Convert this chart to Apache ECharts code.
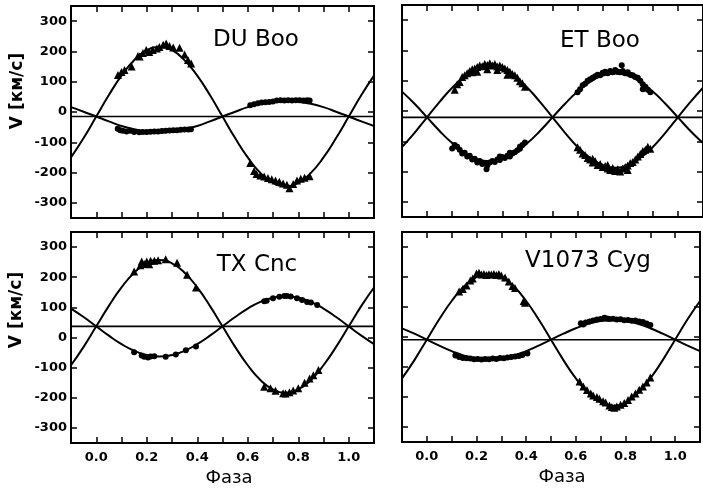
<!DOCTYPE html>
<html>
<head>
<meta charset="utf-8">
<script src="https://cdn.jsdelivr.net/npm/echarts@6/dist/echarts.min.js"></script>
<style>html,body{margin:0;padding:0;background:#fff}#c{width:703px;height:491px}</style>
</head>
<body>
<div id="c"></div>
<script>
// ---- data ----
const phases = [-0.1,-0.05,0,0.05,0.1,0.15,0.2,0.25,0.3,0.35,0.4,0.45,0.5,0.55,0.6,0.65,0.7,0.75,0.8,0.85,0.9,0.95,1.0,1.05,1.1];
const xTickLabels = ['0.0','0.2','0.4','0.6','0.8','1.0'];
const yTickLabels = ['-300','-200','-100','0','100','200','300'];
const panelNames = ['DU Boo','ET Boo','TX Cnc','V1073 Cyg'];

const duBooGamma = -15;
const duBooFit1 = [-150,-86,-15,56,120,171,204,215,204,171,120,56,-15,-86,-150,-201,-234,-245,-234,-201,-150,-86,-15,56,120];
const duBooFit2 = [16,1,-15,-31,-46,-57,-64,-67,-64,-57,-46,-31,-15,1,16,27,34,37,34,27,16,1,-15,-31,-46];
const duBooTri = [[0.086,122],[0.1,132],[0.112,139],[0.14,150],[0.165,185],[0.172,183],[0.185,195],[0.198,205],[0.21,198],[0.224,205],[0.24,210],[0.25,215],[0.265,222],[0.277,226],[0.29,218],[0.305,213],[0.33,212],[0.35,190],[0.363,172],[0.376,160],
  [0.61,-168],[0.625,-195],[0.635,-205],[0.65,-210],[0.665,-213],[0.68,-218],[0.695,-222],[0.71,-226],[0.725,-230],[0.74,-236],[0.755,-240],[0.765,-252],[0.78,-238],[0.795,-226],[0.81,-220],[0.825,-217],[0.845,-212]];
const duBooCirc = [[0.085,-55],[0.095,-60],[0.105,-62],[0.12,-64],[0.135,-62],[0.15,-66],[0.17,-67],[0.185,-66],[0.2,-66],[0.215,-65],[0.23,-64],[0.245,-64],[0.26,-63],[0.275,-62],[0.29,-61],[0.305,-60],[0.32,-60],[0.335,-59],[0.35,-58],[0.365,-58],[0.375,-57],
  [0.61,22],[0.625,26],[0.64,29],[0.655,31],[0.67,32],[0.685,33],[0.7,35],[0.715,38],[0.73,39],[0.745,38],[0.76,39],[0.775,38],[0.79,39],[0.805,39],[0.82,38],[0.835,39],[0.845,38]];

const etBooGamma = -21;
const etBooFit1 = [-119,-72,-21,30,77,113,137,145,137,113,77,30,-21,-72,-119,-155,-179,-187,-179,-155,-119,-72,-21,30,77];
const etBooFit2 = [64,24,-21,-66,-106,-138,-159,-166,-159,-138,-106,-66,-21,24,64,96,117,124,117,96,64,24,-21,-66,-106];
const etBooTri = [[0.11,70],[0.12,88],[0.13,96],[0.14,112],[0.15,118],[0.16,125],[0.17,132],[0.18,128],[0.19,140],[0.2,145],[0.21,150],[0.22,148],[0.23,155],[0.24,152],[0.25,158],[0.26,150],[0.27,155],[0.28,147],[0.29,150],[0.3,145],[0.31,140],[0.32,135],[0.33,130],[0.34,122],[0.35,118],[0.36,110],[0.37,98],[0.38,92],[0.39,80],[0.2,130],[0.24,138],[0.28,135],[0.32,120],[0.18,138],
  [0.6,-120],[0.61,-128],[0.62,-140],[0.63,-145],[0.64,-155],[0.65,-160],[0.66,-170],[0.67,-165],[0.68,-178],[0.69,-175],[0.7,-185],[0.71,-182],[0.72,-190],[0.73,-195],[0.74,-188],[0.75,-198],[0.76,-192],[0.77,-200],[0.78,-190],[0.79,-185],[0.8,-180],[0.81,-172],[0.82,-168],[0.83,-160],[0.84,-150],[0.85,-142],[0.86,-132],[0.87,-128],[0.88,-118],[0.89,-125],[0.66,-158],[0.72,-178],[0.8,-195]];
const etBooCirc = [[0.1,-124],[0.11,-112],[0.12,-118],[0.13,-128],[0.14,-140],[0.15,-138],[0.16,-150],[0.17,-148],[0.18,-160],[0.19,-158],[0.2,-170],[0.21,-165],[0.22,-175],[0.23,-172],[0.237,-192],[0.24,-180],[0.25,-170],[0.26,-165],[0.27,-168],[0.28,-160],[0.29,-162],[0.3,-152],[0.31,-155],[0.32,-148],[0.33,-150],[0.34,-140],[0.35,-136],[0.36,-130],[0.37,-125],[0.38,-112],[0.39,-104],[0.29,-150],[0.33,-138],[0.37,-118],
  [0.6,62],[0.61,72],[0.62,85],[0.63,90],[0.64,100],[0.65,105],[0.66,110],[0.67,115],[0.68,120],[0.69,118],[0.7,126],[0.71,130],[0.72,125],[0.73,132],[0.74,128],[0.75,135],[0.76,130],[0.776,151],[0.77,128],[0.78,132],[0.79,125],[0.8,128],[0.81,120],[0.82,118],[0.83,112],[0.84,110],[0.85,100],[0.86,88],[0.87,80],[0.88,70],[0.89,62],[0.86,72]];

const txCncGamma = 37;
const txCncFit1 = [-92,-31,37,105,166,215,246,257,246,215,166,105,37,-31,-92,-141,-172,-183,-172,-141,-92,-31,37,105,166];
const txCncFit2 = [96,68,37,6,-22,-44,-58,-63,-58,-44,-22,6,37,68,96,118,132,137,132,118,96,68,37,6,-22];
const txCncTri = [[0.15,219],[0.175,240],[0.18,252],[0.19,244],[0.2,252],[0.21,243],[0.215,255],[0.23,255],[0.245,256],[0.275,260],[0.32,248],[0.36,208],[0.395,166],
  [0.665,-163],[0.69,-168],[0.71,-177],[0.74,-185],[0.75,-186],[0.765,-182],[0.78,-176],[0.8,-168],[0.825,-150],[0.845,-136],[0.86,-125],[0.88,-108]];
const txCncCirc = [[0.15,-49],[0.18,-60],[0.19,-64],[0.205,-66],[0.215,-63],[0.23,-62],[0.275,-64],[0.315,-56],[0.355,-42],[0.395,-30],
  [0.665,120],[0.675,122],[0.7,130],[0.725,135],[0.745,138],[0.755,138],[0.77,136],[0.795,130],[0.815,124],[0.835,118],[0.85,116],[0.875,108]];

const v1073Gamma = -9;
const v1073Fit1 = [-138,-77,-9,59,120,169,200,211,200,169,120,59,-9,-77,-138,-187,-218,-229,-218,-187,-138,-77,-9,59,120];
const v1073Fit2 = [29,11,-9,-29,-47,-62,-71,-74,-71,-62,-47,-29,-9,11,29,44,53,56,53,44,29,11,-9,-29,-47];
const v1073Tri = [[0.13,152],[0.145,160],[0.16,172],[0.175,188],[0.185,195],[0.2,212],[0.21,214],[0.22,208],[0.23,210],[0.24,207],[0.25,209],[0.26,208],[0.27,210],[0.28,207],[0.29,210],[0.3,205],[0.315,198],[0.33,185],[0.345,170],[0.355,163],[0.39,120],[0.395,114],
  [0.615,-148],[0.63,-165],[0.645,-177],[0.66,-188],[0.67,-195],[0.685,-200],[0.695,-206],[0.71,-214],[0.72,-218],[0.735,-228],[0.745,-233],[0.755,-236],[0.765,-232],[0.78,-226],[0.795,-220],[0.81,-210],[0.825,-198],[0.84,-188],[0.855,-176],[0.87,-165],[0.885,-152],[0.9,-135]];
const v1073Circ = [[0.115,-62],[0.13,-67],[0.145,-70],[0.16,-71],[0.175,-72],[0.19,-74],[0.205,-73],[0.22,-75],[0.235,-73],[0.25,-74],[0.265,-72],[0.28,-73],[0.295,-70],[0.31,-71],[0.325,-68],[0.34,-67],[0.355,-65],[0.37,-63],[0.385,-60],[0.405,-55],
  [0.62,46],[0.63,42],[0.64,48],[0.655,52],[0.67,55],[0.685,58],[0.7,60],[0.715,64],[0.725,62],[0.735,60],[0.75,61],[0.765,58],[0.78,59],[0.795,56],[0.81,57],[0.825,54],[0.84,55],[0.855,52],[0.87,50],[0.885,45],[0.9,40]];

// ---- layout ----
const panels = [
  {name: panelNames[0], gamma: duBooGamma, fit1: duBooFit1, fit2: duBooFit2, tri: duBooTri, circ: duBooCirc, grid: {left: 71, top: 6, width: 303, height: 212}, xl: false, yl: true, title: [256, 40]},
  {name: panelNames[1], gamma: etBooGamma, fit1: etBooFit1, fit2: etBooFit2, tri: etBooTri, circ: etBooCirc, grid: {left: 402, top: 5, width: 305, height: 212}, xl: false, yl: false, title: [600, 41]},
  {name: panelNames[2], gamma: txCncGamma, fit1: txCncFit1, fit2: txCncFit2, tri: txCncTri, circ: txCncCirc, grid: {left: 71, top: 232, width: 303, height: 211}, xl: true, yl: true, title: [257, 265]},
  {name: panelNames[3], gamma: v1073Gamma, fit1: v1073Fit1, fit2: v1073Fit2, tri: v1073Tri, circ: v1073Circ, grid: {left: 402, top: 232, width: 305, height: 210}, xl: true, yl: false, title: [588, 261]}
];

const tickFont = {fontFamily: 'DejaVu Sans', fontWeight: 'bold', fontSize: 13, color: '#000'};
const tickStyle = {inside: true, length: 6, lineStyle: {color: '#000', width: 1.5}};

const grids = [], xAxes = [], yAxes = [], series = [];
panels.forEach((p, i) => {
  grids.push(Object.assign({show: true, borderColor: '#000', borderWidth: 2, backgroundColor: 'transparent'}, p.grid));
  ['bottom', 'top'].forEach(pos => {
    xAxes.push({type: 'value', gridIndex: i, position: pos, min: -0.1, max: 1.1, interval: 0.1,
      axisLine: {show: false, onZero: false}, splitLine: {show: false}, axisTick: tickStyle,
      axisLabel: Object.assign({show: pos === 'bottom' && p.xl, margin: 8,
        formatter: v => { const k = Math.round(v * 10); return (k >= 0 && k <= 10 && k % 2 === 0) ? xTickLabels[k / 2] : ''; }}, tickFont)});
  });
  ['left', 'right'].forEach(pos => {
    yAxes.push({type: 'value', gridIndex: i, position: pos, min: -350, max: 350, splitNumber: 7,
      axisLine: {show: false, onZero: false}, splitLine: {show: false}, axisTick: tickStyle,
      axisLabel: Object.assign({show: pos === 'left' && p.yl, margin: 4, showMinLabel: false, showMaxLabel: false,
        formatter: v => { const k = Math.round(v / 100); return (Math.abs(v) < 340 && Math.abs(v - k * 100) < 1) ? yTickLabels[k + 3] : ''; }}, tickFont)});
  });
  const xi = i * 2, yi = i * 2;
  const lineBase = {type: 'line', xAxisIndex: xi, yAxisIndex: yi, symbol: 'none', smooth: true, lineStyle: {color: '#000', width: 2}, silent: true};
  series.push(Object.assign({}, lineBase, {data: phases.map((x, j) => [x, p.fit1[j]])}));
  series.push(Object.assign({}, lineBase, {data: phases.map((x, j) => [x, p.fit2[j]])}));
  series.push(Object.assign({}, lineBase, {smooth: false, lineStyle: {color: '#000', width: 1.6}, data: [[phases[0], p.gamma], [phases[phases.length - 1], p.gamma]]}));
  series.push({type: 'scatter', xAxisIndex: xi, yAxisIndex: yi, symbol: 'triangle', symbolSize: 8, itemStyle: {color: '#000', opacity: 1}, data: p.tri, silent: true});
  series.push({type: 'scatter', xAxisIndex: xi, yAxisIndex: yi, symbol: 'circle', symbolSize: 6, itemStyle: {color: '#000', opacity: 1}, data: p.circ, silent: true});
});

const graphics = [];
panels.forEach(p => {
  graphics.push({type: 'text', x: p.title[0], y: p.title[1], style: {text: p.name, fontFamily: 'DejaVu Sans', fontSize: 23, fill: '#000', textAlign: 'center', textVerticalAlign: 'middle'}});
});
[[18, 91], [17, 310]].forEach(c => {
  graphics.push({type: 'text', x: c[0], y: c[1], rotation: Math.PI / 2, style: {text: 'V [км/с]', fontFamily: 'DejaVu Sans', fontWeight: 'bold', fontSize: 17, fill: '#000', textAlign: 'center', textVerticalAlign: 'middle'}});
});
[[229, 478], [562, 477]].forEach(c => {
  graphics.push({type: 'text', x: c[0], y: c[1], style: {text: 'Фаза', fontFamily: 'DejaVu Sans', fontSize: 18, fill: '#000', textAlign: 'center', textVerticalAlign: 'middle'}});
});

const chart = echarts.init(document.getElementById('c'), null, {renderer: 'canvas'});
chart.setOption({animation: false, backgroundColor: '#fff', grid: grids, xAxis: xAxes, yAxis: yAxes, series: series, graphic: graphics});
</script>
</body>
</html>
